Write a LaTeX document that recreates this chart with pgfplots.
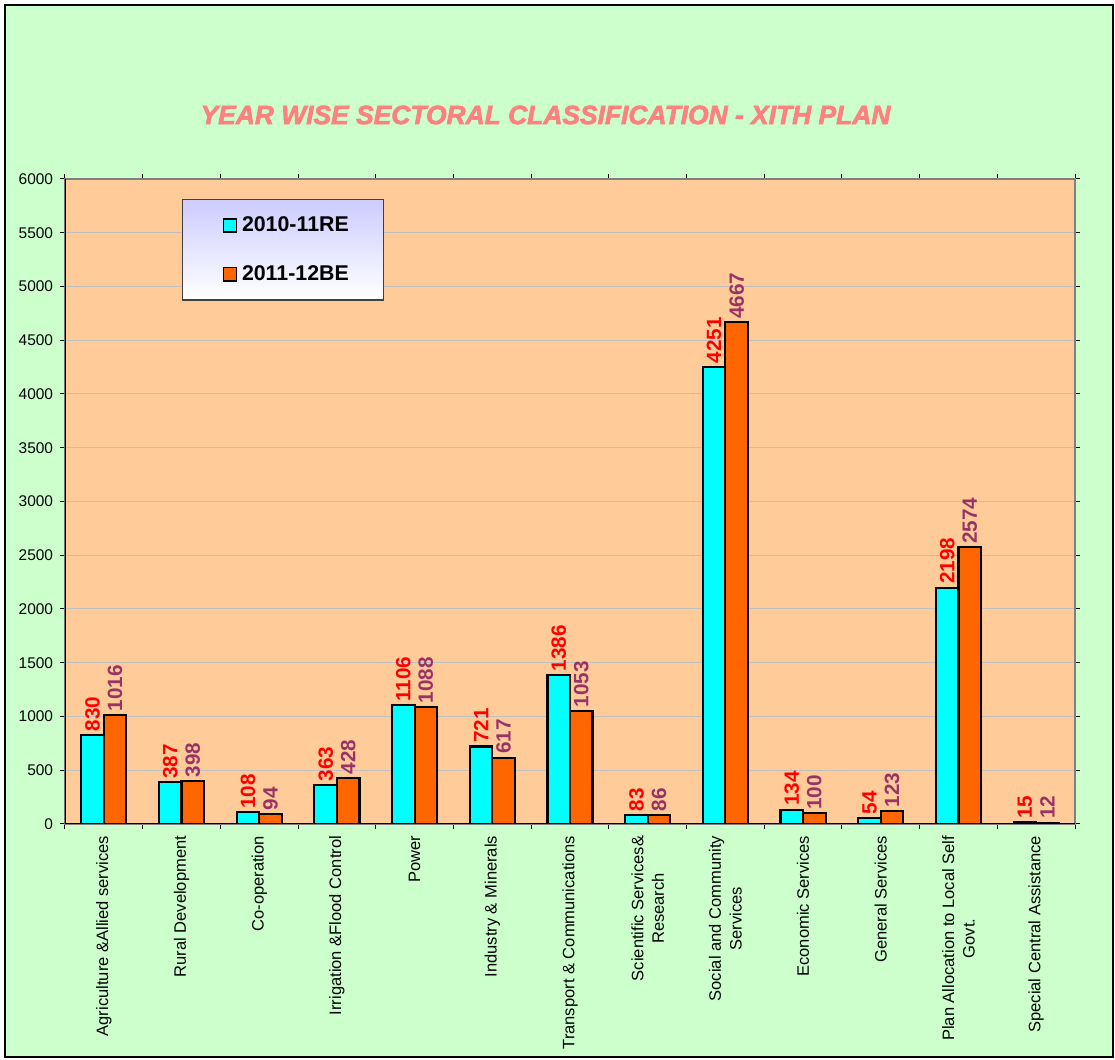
\documentclass[border=0pt]{standalone}
\usepackage{fontspec}
\setmainfont{Liberation Sans}
\newfontfamily\titlefont[FakeBold=2.5]{Liberation Sans}
\usepackage{pgfplots}
\pgfplotsset{compat=1.18}
\definecolor{pageBg}{HTML}{CCFFCC}
\definecolor{plotBg}{HTML}{FFCC99}
\definecolor{sCyan}{HTML}{00FFFF}
\definecolor{sOrange}{HTML}{FF6600}
\definecolor{lblRed}{HTML}{FF0000}
\definecolor{lblPurple}{HTML}{993366}
\definecolor{titleCol}{HTML}{FF8080}
\definecolor{gridCol}{HTML}{C0C0C0}
\definecolor{legTop}{HTML}{CCCCFF}

\begin{document}
\begin{tikzpicture}
% page: 1px = 0.75pt, axis box at origin
\path[use as bounding box] (-48.75pt,-177pt) rectangle (787.5pt,618pt);
\fill[white] (-48.75pt,-177pt) rectangle (787.5pt,618pt);
\draw[black, line width=0.9pt, fill=pageBg] (-45pt,-174.75pt) rectangle (786pt,614.25pt);
\node[font=\titlefont\bfseries\itshape\fontsize{19.8}{22}\selectfont, text=titleCol]
  at (360.4pt,531.75pt) {YEAR WISE SECTORAL CLASSIFICATION - XITH PLAN};

\begin{axis}[
  at={(0pt,0pt)}, anchor=south west,
  scale only axis, width=757.5pt, height=483.75pt,
  xmin=-0.5, xmax=12.5, ymin=0, ymax=6000,
  ytick={0,500,...,6000},
  scaled y ticks=false,
  /pgf/number format/1000 sep={},
  /pgf/number format/assume math mode=true,
  axis background/.style={fill=plotBg},
  axis line style={draw=gray, line width=0.9pt},
  ymajorgrids, major grid style={draw=gridCol, line width=0.75pt},
  tick align=outside,
  major tick length=3.75pt, minor tick length=3.75pt,
  tick style={black, line width=0.75pt},
  xtick={0,...,12},
  major x tick style={draw=none},
  minor xtick={-0.5,0.5,...,12.5},
  xticklabels={
    Agriculture \&Allied services,
    Rural Development,
    Co-operation,
    Irrigation \&Flood Control,
    Power,
    Industry \& Minerals,
    Transport \& Communications,
    {Scientific Services\&\\Research},
    {Social and Community\\Services},
    Economic Services,
    General Services,
    {Plan Allocation to Local Self\\Govt.},
    Special Central Assistance},
  xticklabel style={rotate=90, anchor=east, align=center,
    font=\fontsize{12.4}{15.5}\selectfont, inner xsep=5pt, inner ysep=2pt},
  yticklabel style={font=\fontsize{11.6}{13}\selectfont, inner xsep=5pt},
  bar width=0.29,
  legend style={at={(0.1158,0.969)}, anchor=north west,
    draw=black!75, line width=0.9pt,
    top color=legTop, bottom color=white,
    font=\bfseries\fontsize{16}{18}\selectfont,
    inner xsep=24pt, inner ysep=11pt, row sep=20pt,
    /tikz/every odd column/.append style={column sep=1.5pt}},
  legend cell align=left,
  legend image code/.code={\path (0pt,0pt);
    \draw[#1, line width=1.1pt] (6pt,-4.9pt) rectangle (15.75pt,4.9pt);},
]
\addplot[ybar, bar shift=-0.145, fill=sCyan, draw=black, line width=1.6pt,
  nodes near coords,
  every node near coord/.append style={xshift=-8.45pt, rotate=90, anchor=west, inner sep=2pt,
    text=lblRed, font=\bfseries\fontsize{15.5}{16}\selectfont}]
  coordinates {(0,830) (1,387) (2,108) (3,363) (4,1106) (5,721) (6,1386)
               (7,83) (8,4251) (9,134) (10,54) (11,2198) (12,15)};
\addlegendentry{2010-11RE}
\addplot[ybar, bar shift=0.145, fill=sOrange, draw=black, line width=1.6pt,
  nodes near coords,
  every node near coord/.append style={xshift=8.45pt, rotate=90, anchor=west, inner sep=2pt,
    text=lblPurple, font=\bfseries\fontsize{15.5}{16}\selectfont}]
  coordinates {(0,1016) (1,398) (2,94) (3,428) (4,1088) (5,617) (6,1053)
               (7,86) (8,4667) (9,100) (10,123) (11,2574) (12,12)};
\addlegendentry{2011-12BE}
\draw[black, line width=0.9pt] (rel axis cs:0,1) -- (rel axis cs:0,0) -- (rel axis cs:1,0);
\end{axis}
\end{tikzpicture}
\end{document}
